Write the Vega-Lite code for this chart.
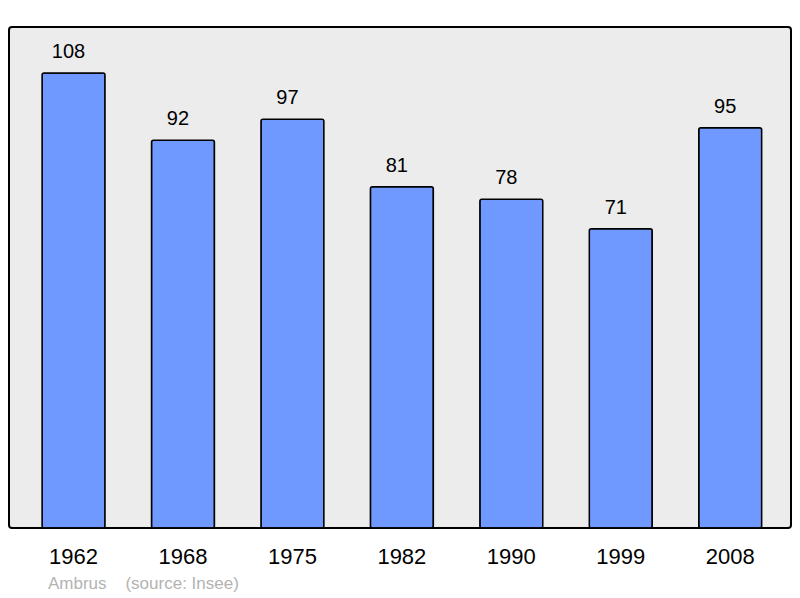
{
  "$schema": "https://vega.github.io/schema/vega-lite/v6.json",
  "width": 782,
  "height": 501,
  "autosize": {"type": "none"},
  "padding": {"left": 9, "top": 27, "right": 9, "bottom": 70},
  "background": "white",
  "config": {
    "view": {"stroke": "black", "strokeWidth": 2, "fill": "#ececec", "cornerRadius": 3},
    "font": "Liberation Sans"
  },
  "title": {
    "text": "Ambrus\u00a0\u00a0\u00a0\u00a0(source: Insee)",
    "orient": "bottom",
    "anchor": "start",
    "dx": 39,
    "offset": 9,
    "fontSize": 17,
    "fontWeight": "normal",
    "color": "#b3b3b3",
    "font": "Liberation Sans"
  },
  "data": {
    "values": [
      {"year": "1962", "pop": 108},
      {"year": "1968", "pop": 92},
      {"year": "1975", "pop": 97},
      {"year": "1982", "pop": 81},
      {"year": "1990", "pop": 78},
      {"year": "1999", "pop": 71},
      {"year": "2008", "pop": 95}
    ]
  },
  "encoding": {
    "x": {
      "field": "year", "type": "nominal", "sort": null,
      "scale": {"paddingInner": 0.425, "paddingOuter": 0.285, "align": 0.53},
      "axis": {"title": null, "labelAngle": 0, "ticks": false, "domain": false, "labelFontSize": 22, "labelColor": "black", "labelPadding": 18, "labelFont": "Liberation Sans"}
    },
    "y": {
      "field": "pop", "type": "quantitative",
      "scale": {"domain": [0, 118.9], "nice": false},
      "axis": null
    }
  },
  "layer": [
    {"mark": {"type": "bar", "fill": "#7099ff", "stroke": "black", "strokeWidth": 1.5, "cornerRadius": 2}},
    {"mark": {"type": "text", "baseline": "alphabetic", "dy": -15, "dx": -5, "fontSize": 20, "color": "black", "font": "Liberation Sans"},
     "encoding": {"text": {"field": "pop", "type": "quantitative"}}}
  ]
}
